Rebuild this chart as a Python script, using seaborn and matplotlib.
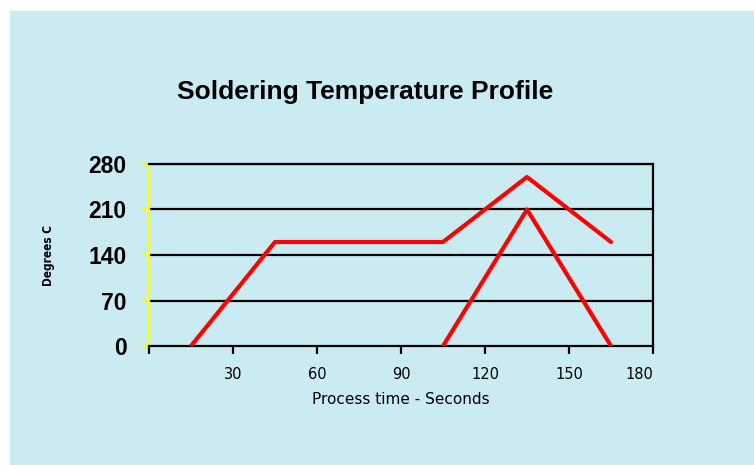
import matplotlib
matplotlib.use('Agg')
import matplotlib.pyplot as plt
import seaborn as sns
from matplotlib.patches import Rectangle

# Data
Preheat_Time = [15, 45, 105, 135, 165]
Preheat_Temp = [0, 160, 160, 260, 160]
Reflow_Time = [105, 135, 165]
Reflow_Temp = [0, 210, 0]

X_Ticks = [0, 30, 60, 90, 120, 150, 180]
X_Tick_Labels = ['', '30', '60', '90', '120', '150', '180']
Y_Ticks = [0, 70, 140, 210, 280]

Background = '#CBEBF2'

sns.set_style('white')
plt.rcParams['font.family'] = ['DejaVu Sans']
plt.rcParams['text.color'] = 'black'
plt.rcParams['axes.labelcolor'] = 'black'
plt.rcParams['xtick.labelcolor'] = 'black'
plt.rcParams['ytick.labelcolor'] = 'black'

Figure = plt.figure(figsize=(7.54, 4.65), dpi=100)
Figure.patch.set_facecolor('white')
Figure.add_artist(Rectangle((10 / 754, 0), 1, 1 - 11 / 465, transform=Figure.transFigure,
                            facecolor=Background, edgecolor='none', zorder=-10))

Axis = Figure.add_axes([149 / 754, 119 / 465, 504 / 754, 182 / 465])
Axis.set_facecolor('none')

sns.lineplot(x=Preheat_Time, y=Preheat_Temp, color='#FF0000', linewidth=3, ax=Axis, sort=False, zorder=3)
sns.lineplot(x=Reflow_Time, y=Reflow_Temp, color='#FF0000', linewidth=3, ax=Axis, sort=False, zorder=3)

Axis.set_xlim(0, 180)
Axis.set_ylim(0, 280)
Axis.set_xticks(X_Ticks)
Axis.set_xticklabels(X_Tick_Labels)
Axis.get_xticklabels()[-1].set_horizontalalignment('right')
Axis.set_yticks(Y_Ticks)
Axis.set_yticklabels([str(v) for v in Y_Ticks], fontsize=16.5, fontweight='bold',
                     family='Liberation Sans')

for Value in Y_Ticks[1:]:
    Axis.axhline(Value, color='black', linewidth=1.6, zorder=1)

for Side in ['top', 'right', 'bottom']:
    Axis.spines[Side].set_color('black')
    Axis.spines[Side].set_linewidth(1.6)
Axis.spines['left'].set_color('#FFFF00')
Axis.spines['left'].set_linewidth(1.6)

Axis.tick_params(axis='x', direction='out', length=6, width=1.6, color='black',
                 labelsize=10.5, pad=9, bottom=True)
Axis.tick_params(axis='y', direction='out', length=6, width=1.6, color='#FFFF00',
                 pad=10, left=True)

Axis.set_xlabel('Process time - Seconds', fontsize=11, labelpad=7)
Axis.set_ylabel('Degrees C', fontsize=8.5, fontweight='bold', fontstretch='condensed', labelpad=24)

Figure.text(365 / 754, 1 - 92 / 465, 'Soldering Temperature Profile', ha='center', va='center',
            fontsize=19, fontweight='bold', family='Liberation Sans')

Figure.savefig('out.png', dpi=100, facecolor=Figure.get_facecolor())
